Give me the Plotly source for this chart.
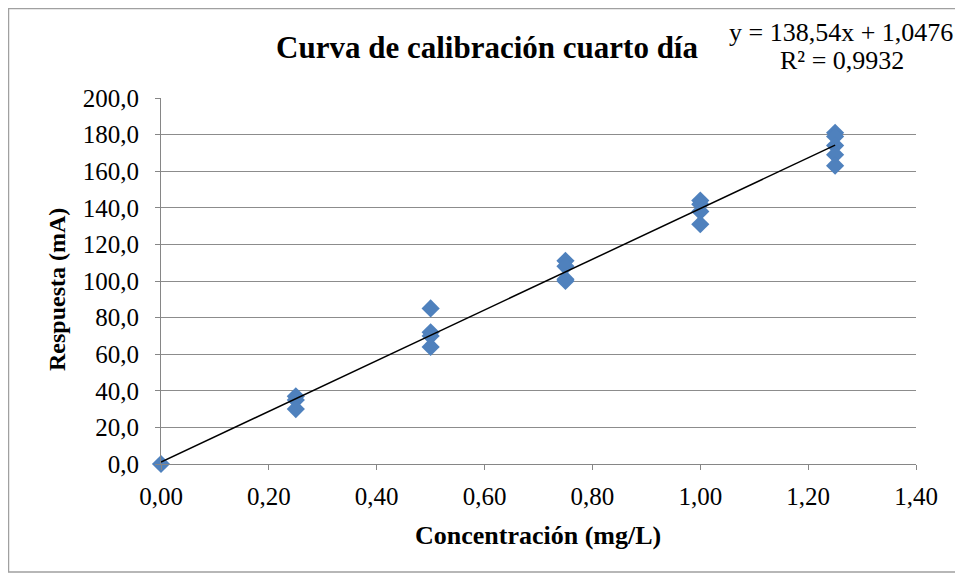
import plotly.graph_objects as go

conc = [0.0, 0.25, 0.25, 0.25, 0.5, 0.5, 0.5, 0.5, 0.75, 0.75, 0.75, 0.75,
        1.0, 1.0, 1.0, 1.0, 1.25, 1.25, 1.25, 1.25, 1.25]
resp = [0.0, 37.0, 35.0, 30.0, 85.0, 72.0, 70.0, 64.0, 111.0, 108.0, 101.0, 100.0,
        144.0, 142.0, 138.0, 131.0, 181.0, 179.0, 174.0, 169.0, 163.0]
slope = 138.54
intercept = 1.0476
r2 = "0,9932"
x_ticks = [0, 0.2, 0.4, 0.6, 0.8, 1.0, 1.2, 1.4]
x_tick_text = ["0,00", "0,20", "0,40", "0,60", "0,80", "1,00", "1,20", "1,40"]
y_ticks = list(range(0, 201, 20))
y_tick_text = [f"{v},0" for v in y_ticks]

fit_x = [0.0, 1.25]
fit_y = [slope * v + intercept for v in fit_x]

font = "Liberation Serif, Times New Roman, serif"
fig = go.Figure()
fig.add_trace(go.Scatter(x=conc, y=resp, mode="markers", cliponaxis=False,
                         marker=dict(symbol="diamond", size=14, color="#4F81BD",
                                     line=dict(width=0)), showlegend=False))
fig.add_trace(go.Scatter(x=fit_x, y=fit_y, mode="lines", cliponaxis=False,
                         line=dict(color="black", width=1.5), showlegend=False))

eq_text = f"y = {str(slope).replace('.', ',')}x + {str(intercept).replace('.', ',')}"
fig.update_layout(
    width=955, height=573,
    margin=dict(l=153, r=47, t=90, b=117),
    paper_bgcolor="white", plot_bgcolor="white",
    font=dict(family=font, size=25, color="black"),
    title=dict(text="<b>Curva de calibración cuarto día</b>", x=0.5016, xref="container",
               xanchor="center", y=0.932, yanchor="middle",
               font=dict(size=31, family=font)),
    xaxis=dict(range=[0, 1.4], tickvals=x_ticks, ticktext=x_tick_text,
               tickfont=dict(family=font, size=25), ticklabelstandoff=5,
               showgrid=False, showline=True, linecolor="#868686", linewidth=1,
               ticks="outside", ticklen=5, tickcolor="#868686", zeroline=False),
    yaxis=dict(range=[0, 200], tickvals=y_ticks, ticktext=y_tick_text,
               tickfont=dict(family=font, size=25), ticklabelstandoff=11,
               showgrid=True, gridcolor="#8c8c8c", gridwidth=1,
               showline=True, linecolor="#868686", linewidth=1,
               ticks="outside", ticklen=5, tickcolor="#868686", zeroline=False),
    annotations=[
        dict(xref="paper", yref="paper", x=0.9007, y=1.1776, xanchor="center", yanchor="middle",
             showarrow=False, text=eq_text, font=dict(size=26, family=font)),
        dict(xref="paper", yref="paper", x=0.902, y=1.1038, xanchor="center", yanchor="middle",
             showarrow=False, text=f"R² = {r2}", font=dict(size=26, family=font)),
        dict(xref="paper", yref="paper", x=-0.1377, y=0.4754, xanchor="center", yanchor="middle",
             showarrow=False, textangle=-90, text="<b>Respuesta (mA)</b>",
             font=dict(size=24, family=font)),
        dict(xref="paper", yref="paper", x=0.4993, y=-0.194, xanchor="center", yanchor="middle",
             showarrow=False, text="<b>Concentración (mg/L)</b>",
             font=dict(size=26, family=font)),
    ],
    shapes=[dict(type="rect", xref="paper", yref="paper", x0=-0.202, x1=1.058,
                 y0=-0.295, y1=1.2445, line=dict(color="#a0a0a0", width=1.5),
                 layer="below")],
)
fig.write_html("out.html")
